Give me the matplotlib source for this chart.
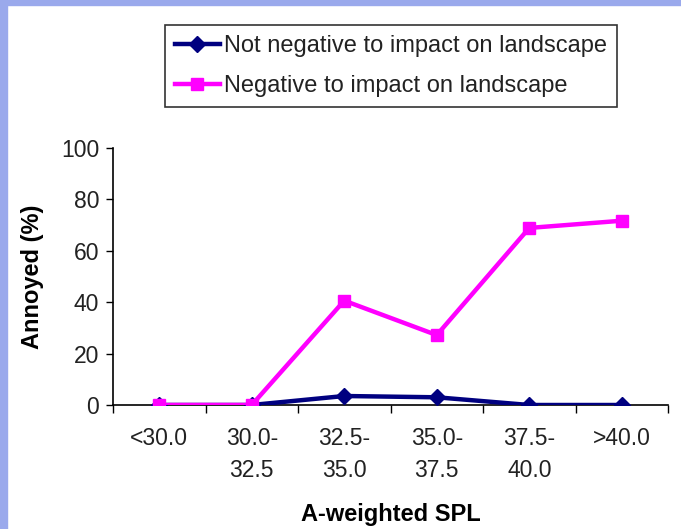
import matplotlib
matplotlib.use("Agg")
import matplotlib.pyplot as plt
from matplotlib.patches import Rectangle

categories = ["<30.0", "30.0-\n32.5", "32.5-\n35.0", "35.0-\n37.5", "37.5-\n40.0", ">40.0"]
not_negative = [0, 0, 3.5, 3.0, 0, 0]
negative = [0, 0, 40.6, 27.2, 68.9, 71.7]
label_not_negative = "Not negative to impact on landscape"
label_negative = "Negative to impact on landscape"

plt.rcParams["font.family"] = ["Liberation Sans", "DejaVu Sans"]

fig = plt.figure(figsize=(6.81, 5.29), dpi=100)
fig.patch.set_facecolor("white")
# blue slide border
fig.patches.append(Rectangle((0, 0), 7/681, 1, transform=fig.transFigure, color="#9aa9ec", zorder=0))
fig.patches.append(Rectangle((0, 1-5/529), 1, 5/529, transform=fig.transFigure, color="#9aa9ec", zorder=0))

ax = fig.add_axes([113/681, 1-405/529, (668-113)/681, (405-148)/529])
x = list(range(len(categories)))
l1, = ax.plot(x, not_negative, color="#000080", lw=3.2, marker="D", ms=8, zorder=3, label=label_not_negative)
l2, = ax.plot(x, negative, color="#ff00ff", lw=3.2, marker="s", ms=9, zorder=4, label=label_negative)

ax.set_xlim(-0.5, len(categories) - 0.5)
ax.set_ylim(0, 100)
ax.set_yticks([0, 20, 40, 60, 80, 100])
ax.set_xticks(x)
ax.set_xticklabels(categories, fontsize=16.5, color="#222222", linespacing=1.5)
ax.set_xticks([i - 0.5 for i in range(len(categories) + 1)], minor=True)
ax.tick_params(axis="x", which="major", length=0, pad=16)
ax.tick_params(axis="x", which="minor", length=6, direction="out", width=1)
ax.tick_params(axis="y", length=5, width=1, labelsize=16.5, labelcolor="#222222", pad=5)
for s in ["top", "right"]:
    ax.spines[s].set_visible(False)
for s in ["left", "bottom"]:
    ax.spines[s].set_linewidth(1.2)
ax.set_ylabel("Annoyed (%)", fontsize=17, fontweight="bold", labelpad=12)
ax.set_xlabel("A-weighted SPL", fontsize=17, fontweight="bold", labelpad=15)

leg = fig.legend(handles=[l1, l2], loc="upper left", bbox_to_anchor=(165/681, 1-25/529),
                 fontsize=17, frameon=True, fancybox=False, edgecolor="black",
                 handlelength=1.9, handletextpad=0.2, borderpad=0.42, labelspacing=0.76,
                 borderaxespad=0)
leg.get_frame().set_linewidth(1.2)
for t in leg.get_texts():
    t.set_color("#222222")

fig.savefig("out.png", dpi=100, facecolor="white")
